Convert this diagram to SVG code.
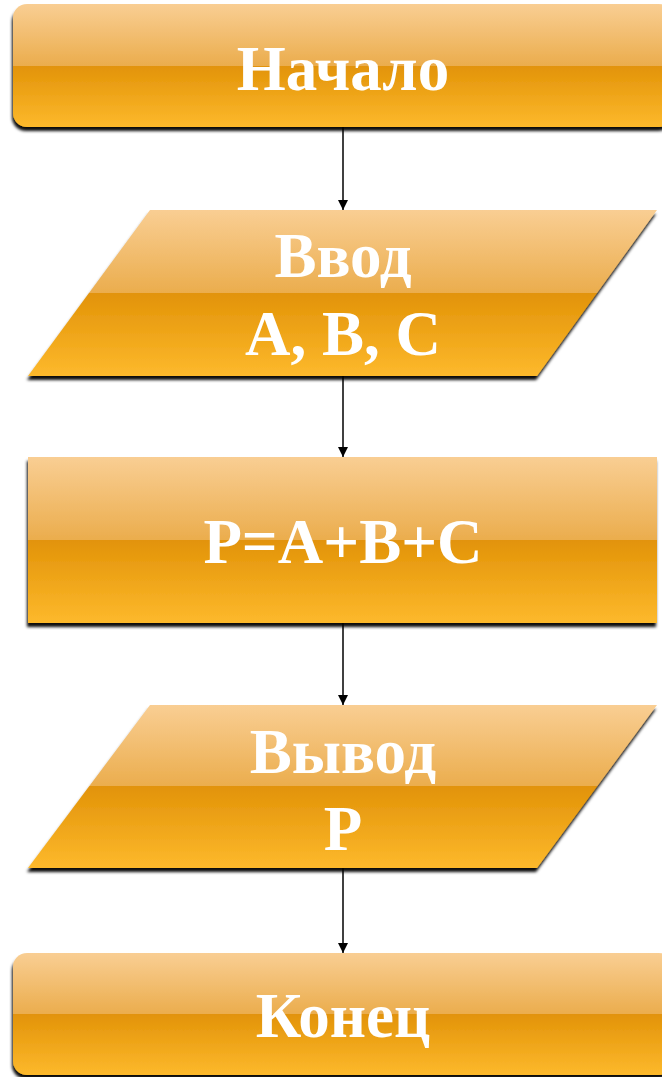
<svg xmlns="http://www.w3.org/2000/svg" width="662" height="1077" viewBox="0 0 662 1077">
<style>
.t{font-family:"Liberation Serif","Times New Roman",serif;font-weight:bold;font-size:63px;fill:#ffffff;text-anchor:middle}
.c{stroke:#000;stroke-width:1.5;fill:none}
</style>
<defs>
<filter id="sh" x="-10%" y="-10%" width="120%" height="130%">
<feDropShadow dx="-1" dy="4" stdDeviation="1.5" flood-color="#000" flood-opacity="0.95"/>
</filter>
<linearGradient id="g" x1="0" y1="0" x2="0" y2="1">
<stop offset="0" stop-color="#F9CE93"/>
<stop offset="0.5" stop-color="#EBAD4D"/>
<stop offset="0.5" stop-color="#E29308"/>
<stop offset="1" stop-color="#FDB92C"/>
</linearGradient>
<marker id="a" viewBox="0 0 10 10" refX="10" refY="5" markerWidth="12" markerHeight="10" markerUnits="userSpaceOnUse" orient="auto">
<path d="M0,0 L10,5 L0,10 z" fill="#000"/>
</marker>
</defs>
<g id="connectors">
<line class="c" x1="343" y1="127" x2="343" y2="210" marker-end="url(#a)"/>
<line class="c" x1="343" y1="376" x2="343" y2="457" marker-end="url(#a)"/>
<line class="c" x1="343" y1="623" x2="343" y2="705" marker-end="url(#a)"/>
<line class="c" x1="343" y1="868" x2="343" y2="953" marker-end="url(#a)"/>
</g>
<g id="start">
<rect x="13" y="4" width="660" height="123" rx="14" fill="url(#g)" filter="url(#sh)"/>
<text class="t" x="343" y="90">Начало</text>
</g>
<g id="input">
<polygon points="150,210 657,210 537,376 28,376" fill="url(#g)" filter="url(#sh)"/>
<text class="t" x="343" y="277">Ввод</text>
<text class="t" x="343" y="355">A, B, C</text>
</g>
<g id="process">
<rect x="28" y="457" width="629" height="166" fill="url(#g)" filter="url(#sh)"/>
<text class="t" x="343" y="563">P=A+B+C</text>
</g>
<g id="output">
<polygon points="150,705 657,705 537,868 28,868" fill="url(#g)" filter="url(#sh)"/>
<text class="t" x="343" y="773">Вывод</text>
<text class="t" x="343" y="850">P</text>
</g>
<g id="end">
<rect x="13" y="953" width="660" height="122" rx="14" fill="url(#g)" filter="url(#sh)"/>
<text class="t" x="343" y="1037">Конец</text>
</g>
</svg>
